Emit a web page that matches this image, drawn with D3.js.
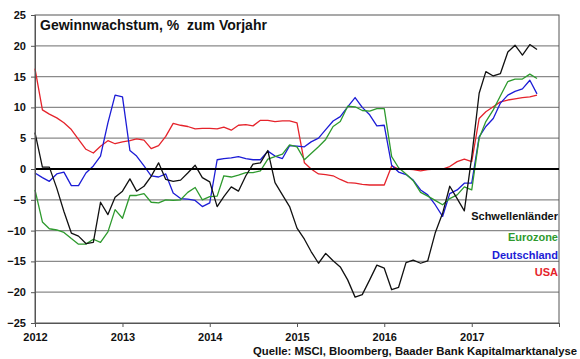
<!DOCTYPE html>
<html>
<head>
<meta charset="utf-8">
<script src="https://cdn.jsdelivr.net/npm/d3@7"></script>
<style>
html,body{margin:0;padding:0;background:#fff;}
svg{display:block;font-family:"Liberation Sans",Arial,sans-serif;}
</style>
</head>
<body>
<svg id="chart" width="580" height="359"></svg>
<script>
const title = "Gewinnwachstum, %  zum Vorjahr";
const source = "Quelle: MSCI, Bloomberg, Baader Bank Kapitalmarktanalyse";
const startYear = 2012, startMonth = 0; // monthly data from Jan 2012
const yTicks = [-25,-20,-15,-10,-5,0,5,10,15,20,25];
const xTickYears = [2012,2013,2014,2015,2016,2017,2018];
const xTickLabels = ["2012","2013","2014","2015","2016","2017",""];
const seriesNames = ["Schwellenländer","Eurozone","Deutschland","USA"];
const seriesColors = ["#111111","#2e9a2e","#1c1cd6","#e5232b"];

const schwellenlaender = [5.9,0.3,0.3,-3.1,-6.9,-10.4,-10.9,-12.1,-11.9,-5.4,-7.4,-4.6,-3.6,-1.6,-3.6,-2.8,-1.2,1.0,-1.7,-2.0,-1.8,-0.65,0.6,-1.4,-2.1,-6.1,-4.5,-2.9,-3.6,-1.1,0.8,1.0,3.0,-2.2,-4.2,-6.1,-9.6,-11.4,-13.4,-15.3,-13.7,-14.9,-15.9,-18.0,-20.8,-20.4,-18.0,-15.6,-16.1,-19.6,-19.2,-15.2,-14.8,-15.3,-14.9,-10.4,-7.2,-2.8,-4.8,-6.8,2.0,12.3,15.8,15.1,15.5,19.0,20.1,18.5,20.2,19.4];
const eurozone = [-3.4,-8.6,-9.7,-9.9,-10.3,-11.3,-12.2,-12.2,-11.4,-11.9,-10.2,-6.6,-8.0,-4.3,-4.3,-4.0,-5.4,-5.5,-5.0,-5.1,-5.0,-3.8,-3.0,-5.0,-4.5,-4.4,-1.1,-1.3,-1.0,-0.6,-0.6,-0.3,1.6,2.0,2.4,3.9,3.6,1.5,2.5,3.6,4.8,6.9,7.7,10.2,10.1,9.5,9.4,9.8,9.8,2.0,0.2,-0.8,-1.9,-3.8,-4.4,-5.1,-5.8,-4.8,-4.2,-2.9,-3.4,5.0,7.7,9.6,11.9,14.2,14.6,14.6,15.4,14.7];
const deutschland = [-0.65,-1.4,-2.0,-0.8,-0.5,-2.7,-2.7,-0.65,0.5,2.1,7.5,12.0,11.7,3.0,2.1,0.5,-1.1,-1.3,-0.8,-3.9,-4.8,-4.9,-5.1,-6.1,-5.5,1.5,1.7,1.8,2.0,1.7,1.5,1.5,2.9,2.1,1.7,3.8,3.7,3.6,4.4,5.0,6.4,7.8,8.5,10.1,11.6,10.0,8.8,7.0,7.1,0.6,-0.5,-0.9,-1.8,-3.4,-4.2,-5.8,-7.7,-4.0,-3.4,-2.3,-2.3,5.2,6.9,8.2,10.7,12.0,12.6,13.0,14.4,12.2];
const usa = [16.3,9.6,8.9,8.3,7.5,6.4,4.8,3.2,2.6,3.7,4.6,4.1,4.4,4.6,4.9,4.7,3.3,3.8,5.3,7.4,7.1,6.9,6.5,6.6,6.6,6.5,6.8,6.3,7.1,7.2,7.0,7.9,7.9,7.7,7.8,7.8,7.5,1.0,0.0,-0.8,-0.9,-1.1,-1.7,-2.2,-2.3,-2.5,-2.6,-2.6,-2.6,0.5,0.0,0.0,-0.1,-0.3,-0.1,0.0,0.0,0.4,1.2,1.6,1.2,8.2,9.3,10.1,10.9,11.2,11.4,11.6,11.7,12.0];

const seriesData = [schwellenlaender, eurozone, deutschland, usa];

const svg = d3.select("#chart");
const pLeft = 35, pRight = 559, pTop = 15, pBottom = 323;

const x = d3.scaleTime()
  .domain([new Date(xTickYears[0],0,1), new Date(xTickYears[xTickYears.length-1],0,1)])
  .range([pLeft, pRight]);
const y = d3.scaleLinear().domain([-25,25]).range([pBottom, pTop]);

// gridlines
svg.append("g").selectAll("line").data(yTicks.filter(v => v !== 0 && v !== -25 && v !== 25)).join("line")
  .attr("x1", pLeft).attr("x2", pRight)
  .attr("y1", d => y(d)).attr("y2", d => y(d))
  .attr("stroke", "#8a8a8a").attr("stroke-width", 1.2);

// frame
svg.append("rect").attr("x", pLeft).attr("y", pTop)
  .attr("width", pRight-pLeft).attr("height", pBottom-pTop)
  .attr("fill", "none").attr("stroke", "#555").attr("stroke-width", 1);

// series lines
const line = d3.line()
  .x((d,i) => x(new Date(startYear, startMonth + i, 1)))
  .y(d => y(d));

[3,2,1,0].forEach(k => {
  svg.append("path").datum(seriesData[k])
    .attr("d", line)
    .attr("fill", "none")
    .attr("stroke", seriesColors[k])
    .attr("stroke-width", 1.3)
    .attr("stroke-linejoin", "round");
});

// zero line
svg.append("line").attr("x1", pLeft).attr("x2", pRight)
  .attr("y1", y(0)).attr("y2", y(0))
  .attr("stroke", "#000").attr("stroke-width", 2);

// y axis
const yAxis = svg.append("g").attr("transform", `translate(${pLeft},0)`)
  .call(d3.axisLeft(y).tickValues(yTicks).tickSize(4).tickPadding(5).tickFormat(d3.format("d")));
yAxis.select(".domain").attr("stroke", "#555");
yAxis.selectAll(".tick line").attr("stroke", "#555");
yAxis.selectAll("text").attr("font-size", 11).attr("font-weight", "bold")
  .attr("fill", "#111").attr("font-family", "Liberation Sans, Arial, sans-serif");

// x axis
const xAxis = svg.append("g").attr("transform", `translate(0,${pBottom})`)
  .call(d3.axisBottom(x).tickValues(xTickYears.map(yr => new Date(yr,0,1)))
    .tickSize(4).tickPadding(6)
    .tickFormat((d,i) => xTickLabels[i]));
xAxis.select(".domain").attr("stroke", "#555");
xAxis.selectAll(".tick line").attr("stroke", "#555");
xAxis.selectAll("text").attr("font-size", 11).attr("font-weight", "bold")
  .attr("fill", "#111").attr("font-family", "Liberation Sans, Arial, sans-serif");

// title
svg.append("text").attr("x", 40).attr("y", 30)
  .attr("font-size", 14).attr("font-weight", "bold").attr("fill", "#111")
  .style("white-space", "pre")
  .text(title);

// legend labels
const legendY = [220, 241, 259, 276];
seriesNames.forEach((n,k) => {
  svg.append("text").attr("x", 558).attr("y", legendY[k])
    .attr("text-anchor", "end").attr("font-size", 11).attr("font-weight", "bold")
    .attr("fill", seriesColors[k]).text(n);
});

// source
svg.append("text").attr("x", 577).attr("y", 355)
  .attr("text-anchor", "end").attr("font-size", 11.3).attr("font-weight", "bold")
  .attr("fill", "#111").text(source);
</script>
</body>
</html>
